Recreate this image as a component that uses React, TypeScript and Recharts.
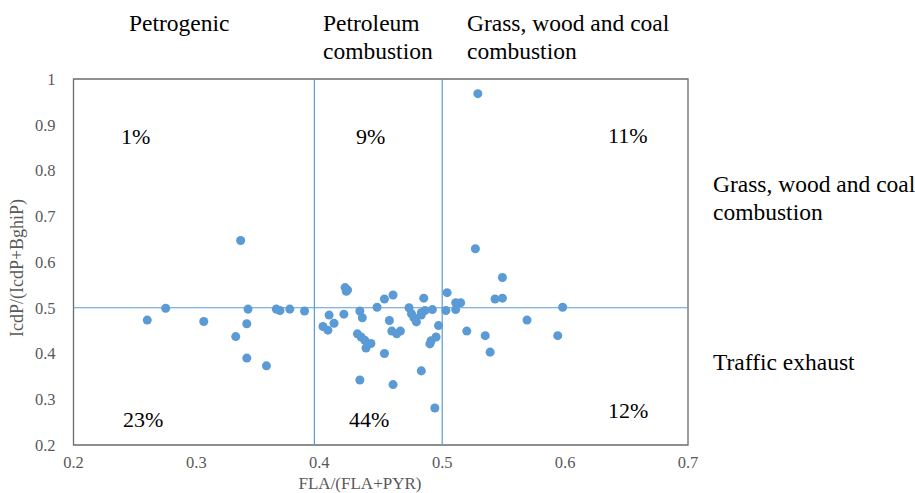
import { ScatterChart, Scatter, XAxis, YAxis, ZAxis, ReferenceLine, ReferenceArea } from 'recharts'

// FLA/(FLA+PYR) vs IcdP/(IcdP+BghiP), one point per sample
const flaRatio = [
  0.260, 0.275, 0.306, 0.332, 0.336, 0.342, 0.341, 0.341, 0.357, 0.365, 0.368, 0.376, 0.388,
  0.403, 0.407, 0.408, 0.412, 0.420, 0.421, 0.423, 0.422, 0.433, 0.435, 0.431, 0.434, 0.437,
  0.442, 0.438, 0.433, 0.447, 0.453, 0.460, 0.453, 0.457, 0.459, 0.463, 0.466, 0.460, 0.473,
  0.475, 0.477, 0.479, 0.483, 0.486, 0.483, 0.485, 0.483, 0.492, 0.497, 0.495, 0.491, 0.490,
  0.494, 0.503, 0.504, 0.511, 0.515, 0.511, 0.520, 0.529, 0.527, 0.543, 0.549, 0.549, 0.535,
  0.539, 0.569, 0.594, 0.598,
]
const icdpRatio = [
  0.473, 0.499, 0.470, 0.437, 0.647, 0.497, 0.465, 0.390, 0.373, 0.497, 0.494, 0.497, 0.493,
  0.459, 0.451, 0.484, 0.466, 0.486, 0.544, 0.539, 0.536, 0.493, 0.478, 0.443, 0.436, 0.429,
  0.422, 0.412, 0.342, 0.501, 0.519, 0.528, 0.400, 0.472, 0.449, 0.443, 0.449, 0.332, 0.500,
  0.487, 0.478, 0.469, 0.489, 0.494, 0.484, 0.521, 0.362, 0.496, 0.461, 0.436, 0.428, 0.421,
  0.281, 0.494, 0.533, 0.511, 0.511, 0.496, 0.449, 0.968, 0.629, 0.519, 0.521, 0.566, 0.439,
  0.403, 0.473, 0.439, 0.501,
]

const xTicks = [0.2, 0.3, 0.4, 0.5, 0.6, 0.7]
const yTicks = [0.2, 0.3, 0.4, 0.5, 0.6, 0.7, 0.8, 0.9, 1]

// quadrant split lines
const flaSplits = [0.396, 0.5]
const icdpSplit = 0.5

const quadrantShares = ['1%', '9%', '11%', '23%', '44%', '12%']
const sourceLabels = [
  ['Petrogenic'],
  ['Petroleum', 'combustion'],
  ['Grass, wood and coal', 'combustion'],
  ['Grass, wood and coal', 'combustion'],
  ['Traffic exhaust'],
]

const data = flaRatio.map((x, i) => ({ x, y: icdpRatio[i] }))

const BLUE = '#5B9BD5'
const GREY = '#595959'
const FONT = '"Liberation Serif", "Times New Roman", serif'

const tickStyle = { fontSize: 16.5, fill: GREY, fontFamily: FONT }
const fmt = (v: number) => String(Number(v.toFixed(1)))

// text placement (left x, baseline y)
const sharePos = [
  [121, 144], [356, 144], [608, 143], [123, 427], [349, 427], [608, 418],
]
const sourcePos = [
  [129, 31], [323, 31], [467, 31], [713, 192], [713, 370],
]

export default function App() {
  return (
    <div style={{ position: 'absolute', left: 0, top: 0, width: 915, height: 493, background: '#fff', fontFamily: FONT }}>
      <ScatterChart width={915} height={493} margin={{ top: 79, right: 227, bottom: 0, left: 0 }}>
        <XAxis
          type="number"
          dataKey="x"
          domain={[0.2, 0.7]}
          ticks={xTicks}
          tickFormatter={fmt}
          tick={tickStyle}
          tickLine={false}
          axisLine={false}
          tickMargin={5}
          height={48}
          allowDataOverflow
        />
        <YAxis
          type="number"
          dataKey="y"
          domain={[0.2, 1]}
          ticks={yTicks}
          tickFormatter={fmt}
          tick={tickStyle}
          tickLine={false}
          axisLine={false}
          tickMargin={12}
          width={73.5}
          allowDataOverflow
        />
        <ZAxis range={[55, 55]} />
        <ReferenceArea x1={0.2} x2={0.7} y1={0.2} y2={1} fill="none" stroke="#6b6b6b" strokeWidth={1.3} />
        {flaSplits.map((v) => (
          <ReferenceLine key={v} x={v} stroke={BLUE} strokeWidth={1.2} />
        ))}
        <ReferenceLine y={icdpSplit} stroke={BLUE} strokeWidth={1.2} />
        <Scatter data={data} fill={BLUE} isAnimationActive={false} />
      </ScatterChart>
      <svg width={915} height={493} style={{ position: 'absolute', left: 0, top: 0, pointerEvents: 'none' }}>
        {quadrantShares.map((s, i) => (
          <text key={s} x={sharePos[i][0]} y={sharePos[i][1]} fontSize={22} fill="#000" fontFamily={FONT}>
            {s}
          </text>
        ))}
        {sourceLabels.map((lines, i) => (
          <text key={i} x={sourcePos[i][0]} y={sourcePos[i][1]} fontSize={23.5} fill="#000" fontFamily={FONT}>
            {lines.map((l, j) => (
              <tspan key={j} x={sourcePos[i][0]} dy={j === 0 ? 0 : 28}>{l}</tspan>
            ))}
          </text>
        ))}
        <text x={360} y={489} textAnchor="middle" fontSize={17} fill={GREY} fontFamily={FONT}>
          FLA/(FLA+PYR)
        </text>
        <text x={23} y={268} textAnchor="middle" fontSize={18} fill={GREY} fontFamily={FONT} transform="rotate(-90 23 268)">
          IcdP/(IcdP+BghiP)
        </text>
      </svg>
    </div>
  )
}
